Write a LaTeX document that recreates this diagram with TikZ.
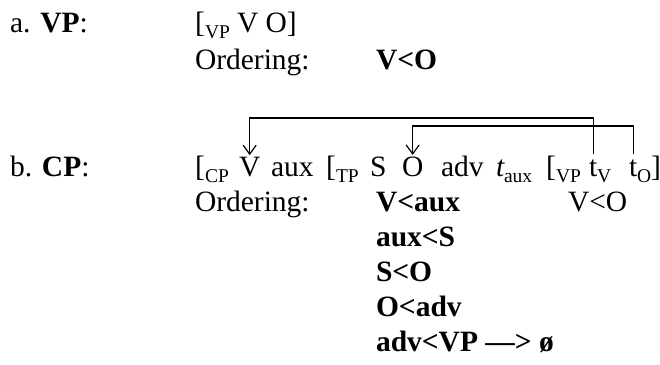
\documentclass[tikz,border=0pt]{standalone}
\usepackage{fontspec}
\setmainfont{Liberation Serif}
\usetikzlibrary{arrows.meta}
\begin{document}
\begin{tikzpicture}[x=1pt,y=-1pt,
  txt/.style={inner sep=0pt,outer sep=0pt,anchor=base west,font=\fontsize{29.5}{35}\selectfont},
  subt/.style={inner sep=0pt,outer sep=0pt,anchor=base west,font=\fontsize{19.5}{19.5}\selectfont},
  movl/.style={line width=1.2pt,-{Straight Barb[length=9pt,width=13pt,line width=1.2pt]}}]
\useasboundingbox (0,0) rectangle (660,364);
% row a
\node[txt] (alab) at (10,32) {a. \textbf{VP}:};
\node[txt] (ab1) at (195,32) {[};
\node[subt] (asub) at (205,38) {VP};
\node[txt] (avo) at (237,32) {V O]};
\node[txt] (aord) at (195,69) {Ordering:};
\node[txt] (avlo) at (376,69) {\textbf{V<O}};
% row b
\node[txt] (blab) at (10,176) {b. \textbf{CP}:};
\node[txt] (bb1) at (195,176) {[};
\node[subt] (bcp) at (205,182) {CP};
\node[txt] (v) at (239,176) {V};
\node[txt] (baux) at (271,176) {aux};
\node[txt] (bb2) at (326,176) {[};
\node[subt] (btp) at (336,182) {TP};
\node[txt] (bs) at (370,176) {S};
\node[txt] (o) at (402,176) {O};
\node[txt] (badv) at (441,176) {adv};
\node[txt] (bt) at (496,176) {\textit{t}};
\node[subt] (btaux) at (504,182) {aux};
\node[txt] (bb3) at (546,176) {[};
\node[subt] (bvp) at (556,182) {VP};
\node[txt] (tv) at (589,176) {t};
\node[subt] (tvs) at (597,182) {V};
\node[txt] (to) at (629,176) {t};
\node[subt] (tos) at (637,182) {O};
\node[txt] (bb4) at (651,176) {]};
% orderings
\node[txt] (bord) at (195,211) {Ordering:};
\node[txt] (o1) at (376,211) {\textbf{V<aux}};
\node[txt] (o6) at (568,211) {V<O};
\node[txt] (o2) at (376,246) {\textbf{aux<S}};
\node[txt] (o3) at (376,281) {\textbf{S<O}};
\node[txt] (o4) at (376,316) {\textbf{O<adv}};
\node[txt] (o5) at (376,351) {\textbf{adv<VP —> ø}};
% movement lines
\coordinate (h1) at (0,118);
\coordinate (h2) at (0,126);
\draw[movl] ([yshift=5pt]tv.north) -- (tv.north |- h1) -- (v.north |- h1) -- ([yshift=1.5pt]v.north);
\draw[movl] ([yshift=5pt]to.north) -- (to.north |- h2) -- (o.north |- h2) -- ([yshift=1.5pt]o.north);
\end{tikzpicture}
\end{document}
